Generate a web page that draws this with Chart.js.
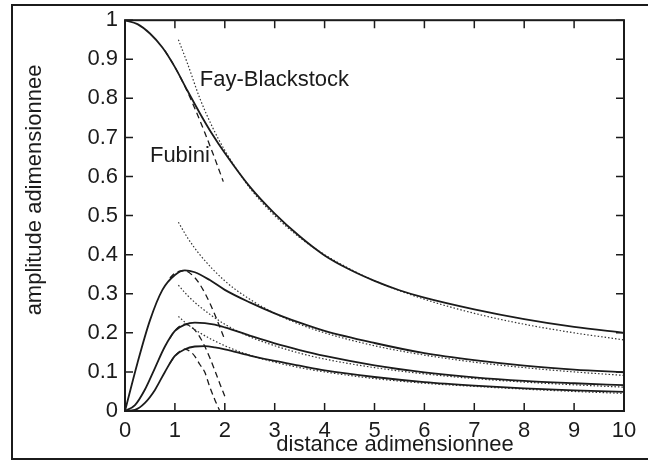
<!DOCTYPE html>
<html>
<head>
<meta charset="utf-8">
<script src="https://cdn.jsdelivr.net/npm/chart.js@4/dist/chart.umd.min.js"></script>
<style>
  html, body { margin: 0; padding: 0; background: #fff; }
  canvas { display: block; }
</style>
</head>
<body>
<canvas id="myChart" width="648" height="461"></canvas>
<script>
// tick values
const xTicks = [0, 1, 2, 3, 4, 5, 6, 7, 8, 9, 10];
const yTicks = [0, 0.1, 0.2, 0.3, 0.4, 0.5, 0.6, 0.7, 0.8, 0.9, 1];
const yTickLabels = ['0', '0.1', '0.2', '0.3', '0.4', '0.5', '0.6', '0.7', '0.8', '0.9', '1'];

// solid curves (harmonics 1..4)
const solidX1 = [0, 0.25, 0.5, 0.75, 1, 1.25, 1.5, 1.75, 2, 2.5, 3, 3.5, 4, 4.5, 5, 5.5, 6, 7, 8, 9, 10];
const solid1 = [1, 0.99, 0.966, 0.93, 0.88, 0.82, 0.762, 0.708, 0.66, 0.574, 0.505, 0.447, 0.398, 0.362, 0.333, 0.309, 0.29, 0.26, 0.235, 0.215, 0.2];
const solidX2 = [0, 0.25, 0.5, 0.75, 1, 1.2, 1.4, 1.7, 2, 2.5, 3, 3.5, 4, 5, 6, 7, 8, 9, 10];
const solid2 = [0, 0.123, 0.232, 0.31, 0.348, 0.36, 0.355, 0.335, 0.31, 0.278, 0.25, 0.226, 0.205, 0.174, 0.148, 0.13, 0.116, 0.106, 0.099];
const solidX34 = [0, 0.2, 0.4, 0.6, 0.8, 1, 1.2, 1.4, 1.6, 1.8, 2, 2.5, 3, 3.5, 4, 5, 6, 7, 8, 9, 10];
const solid3 = [0, 0.015, 0.055, 0.11, 0.165, 0.205, 0.221, 0.226, 0.225, 0.221, 0.214, 0.193, 0.173, 0.156, 0.141, 0.117, 0.099, 0.086, 0.077, 0.071, 0.066];
const solid4 = [0, 0.003, 0.021, 0.054, 0.1, 0.141, 0.158, 0.165, 0.166, 0.163, 0.158, 0.142, 0.128, 0.116, 0.104, 0.087, 0.074, 0.065, 0.058, 0.053, 0.049];

// Fay-Blackstock (dotted)
const fayX1 = [1.07, 1.25, 1.5, 1.75, 2, 2.5, 3, 3.5, 4, 4.5, 5, 6, 7, 8, 9, 10];
const fay1 = [0.95, 0.89, 0.8, 0.727, 0.667, 0.571, 0.5, 0.444, 0.4, 0.364, 0.333, 0.286, 0.25, 0.222, 0.2, 0.182];
const fayX = [1.07, 1.25, 1.5, 2, 2.5, 3, 3.5, 4, 5, 6, 7, 8, 9, 10];
const fay2 = [0.483, 0.444, 0.4, 0.333, 0.286, 0.25, 0.222, 0.2, 0.167, 0.143, 0.125, 0.111, 0.1, 0.091];
const fay3 = [0.322, 0.296, 0.267, 0.222, 0.19, 0.167, 0.148, 0.133, 0.111, 0.095, 0.083, 0.074, 0.067, 0.061];
const fay4 = [0.242, 0.222, 0.2, 0.167, 0.143, 0.125, 0.111, 0.1, 0.083, 0.071, 0.063, 0.056, 0.05, 0.045];

// Fubini (dashed)
const fubX1 = [0.8, 1, 1.2, 1.4, 1.6, 1.8, 1.97];
const fub1 = [0.922, 0.88, 0.831, 0.774, 0.712, 0.646, 0.587];
const fubX2 = [0.9, 1, 1.2, 1.4, 1.5, 1.6, 1.7, 1.8, 1.9, 2];
const fub2 = [0.34, 0.353, 0.359, 0.341, 0.324, 0.302, 0.276, 0.247, 0.215, 0.182];
const fubX3 = [0.9, 1, 1.2, 1.3, 1.4, 1.5, 1.6, 1.7, 1.8, 1.9, 2];
const fub3 = [0.186, 0.206, 0.222, 0.218, 0.207, 0.189, 0.165, 0.136, 0.104, 0.07, 0.038];
const fubX4 = [0.9, 1, 1.1, 1.2, 1.3, 1.4, 1.5, 1.6, 1.7, 1.8, 1.9];
const fub4 = [0.122, 0.141, 0.153, 0.158, 0.153, 0.14, 0.119, 0.099, 0.061, 0.029, 0];

// text labels inside the plot (data coords of left/baseline)
const fayLabel = { text: 'Fay-Blackstock', x: 1.5, y: 0.832 };
const fubLabel = { text: 'Fubini', x: 0.5, y: 0.636 };

const ink = '#1b1b1b';
const fontFamily = '"Liberation Sans", Arial, Helvetica, sans-serif';

function pts(xs, ys) {
  return xs.map((x, i) => ({ x: x, y: ys[i] }));
}

function solid(xs, ys) {
  return { data: pts(xs, ys), borderColor: ink, borderWidth: 1.8 };
}
function dashed(xs, ys) {
  return { data: pts(xs, ys), borderColor: ink, borderWidth: 1.3, borderDash: [6, 4] };
}
function dotted(xs, ys) {
  return { data: pts(xs, ys), borderColor: '#333', borderWidth: 1.2, borderDash: [1.5, 2] };
}

const framePlugin = {
  id: 'framePlugin',
  beforeDraw(chart) {
    const ctx = chart.ctx;
    ctx.save();
    ctx.fillStyle = '#fff';
    ctx.fillRect(0, 0, chart.width, chart.height);
    ctx.strokeStyle = ink;
    ctx.lineWidth = 2;
    ctx.strokeRect(12, 5, 700, 454);
    ctx.restore();
  },
  afterDraw(chart) {
    const { ctx, chartArea: a, scales } = chart;
    const x = scales.x, y = scales.y;
    ctx.save();
    ctx.strokeStyle = ink;
    ctx.lineWidth = 2;
    ctx.strokeRect(a.left, a.top, a.right - a.left, a.bottom - a.top);
    ctx.lineWidth = 1.5;
    ctx.beginPath();
    xTicks.forEach(v => {
      const px = x.getPixelForValue(v);
      ctx.moveTo(px, a.bottom); ctx.lineTo(px, a.bottom - 8);
      ctx.moveTo(px, a.top); ctx.lineTo(px, a.top + 8);
    });
    yTicks.forEach(v => {
      const py = y.getPixelForValue(v);
      ctx.moveTo(a.left, py); ctx.lineTo(a.left + 8, py);
      ctx.moveTo(a.right, py); ctx.lineTo(a.right - 8, py);
    });
    ctx.stroke();

    ctx.fillStyle = ink;
    ctx.font = '22px ' + fontFamily;
    ctx.textBaseline = 'alphabetic';
    ctx.textAlign = 'left';
    [fayLabel, fubLabel].forEach(l => {
      ctx.fillText(l.text, x.getPixelForValue(l.x), y.getPixelForValue(l.y));
    });

    // axis titles
    ctx.textAlign = 'center';
    ctx.textBaseline = 'middle';
    ctx.fillText('distance adimensionnee', 395, 445);
    ctx.translate(35, 190);
    ctx.rotate(-Math.PI / 2);
    ctx.fillText('amplitude adimensionnee', 0, 0);
    ctx.restore();
  }
};

const ctx = document.getElementById('myChart').getContext('2d');
const myChart = new Chart(ctx, {
  type: 'line',
  data: {
    datasets: [
      solid(solidX1, solid1),
      solid(solidX2, solid2),
      solid(solidX34, solid3),
      solid(solidX34, solid4),
      dotted(fayX1, fay1),
      dotted(fayX, fay2),
      dotted(fayX, fay3),
      dotted(fayX, fay4),
      dashed(fubX1, fub1),
      dashed(fubX2, fub2),
      dashed(fubX3, fub3),
      dashed(fubX4, fub4)
    ]
  },
  options: {
    responsive: false,
    animation: false,
    devicePixelRatio: 1,
    layout: { padding: { top: 14, right: 24, left: 0, bottom: 0 } },
    elements: {
      point: { radius: 0 },
      line: { cubicInterpolationMode: 'monotone', fill: false }
    },
    plugins: {
      legend: { display: false },
      tooltip: { enabled: false }
    },
    scales: {
      x: {
        type: 'linear',
        min: 0,
        max: 10,
        grid: { display: false, drawTicks: false },
        border: { display: false },
        afterBuildTicks(s) { s.ticks = xTicks.map(v => ({ value: v })); },
        afterFit(s) { s.height = 50; },
        ticks: { padding: 7, color: ink, font: { family: fontFamily, size: 22 }, maxRotation: 0 }
      },
      y: {
        type: 'linear',
        min: 0,
        max: 1,
        grid: { display: false, drawTicks: false },
        border: { display: false },
        afterBuildTicks(s) { s.ticks = yTicks.map(v => ({ value: v })); },
        afterFit(s) { s.width = 125; },
        ticks: {
          padding: 7,
          color: ink,
          font: { family: fontFamily, size: 22 },
          callback: (v, i) => yTickLabels[i]
        }
      }
    }
  },
  plugins: [framePlugin]
});
</script>
</body>
</html>
